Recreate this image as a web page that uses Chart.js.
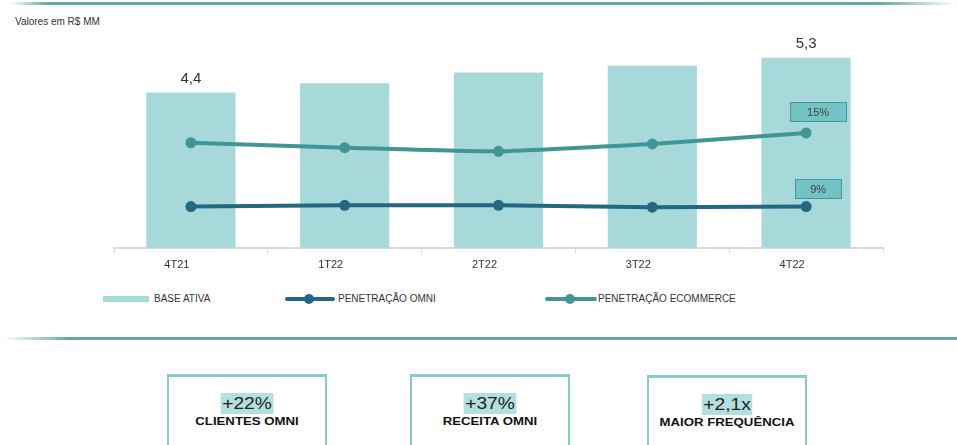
<!DOCTYPE html>
<html>
<head>
<meta charset="utf-8">
<script src="https://cdn.jsdelivr.net/npm/chart.js@4.4.1/dist/chart.umd.min.js"></script>
<style>
  html, body { margin: 0; padding: 0; background: #fff; }
  body { width: 957px; height: 445px; position: relative; overflow: hidden; font-family: "Liberation Sans", Arial, sans-serif; color: #333; }
  .rule { position: absolute; height: 3px; }
  .rule.top { left: 0; top: 2px; width: 957px; background: linear-gradient(to right, rgba(98,169,165,0) 1%, #62a9a5 5%, #64aaa6 92%, rgba(98,169,165,0) 100%); }
  .rule.mid { left: 3px; top: 337px; width: 954px; background: linear-gradient(to right, rgba(98,169,165,0) 0%, #62a9a5 7%, #62a9a5 100%); }
  #unit { position: absolute; left: 15px; top: 16px; font-size: 10px; }
  #wrap { position: absolute; left: 0; top: 0; width: 957px; height: 285px; }
  .lg { position: absolute; font-size: 10px; line-height: 12px; top: 293px; }
  .lg-box { position: absolute; top: 296px; height: 6px; }
  .lg-line { position: absolute; top: 297px; height: 4px; border-radius: 2px; }
  .lg-dot { position: absolute; width: 10px; height: 10px; border-radius: 50%; top: 294px; }
  .card { position: absolute; top: 374px; width: 156px; height: 100px; border: 2px solid #86cacd; border-top-width: 3px; }
  .card .in { position: absolute; left: 0; right: 0; top: 16px; text-align: center; transform: scaleX(1.2); }
  .card .big { display: inline-block; background: #b3dfe0; font-size: 16px; line-height: 21px; padding: 0 1px; color: #222; }
  .card .sub { font-size: 11px; font-weight: bold; color: #111; line-height: 13px; margin-top: 1px; }
</style>
</head>
<body>
<div class="rule top"></div>
<div id="unit">Valores em R$ MM</div>
<div id="wrap"><canvas id="chart"></canvas></div>

<div class="lg-box" style="left:103px;width:46px;background:#a8d9da"></div>
<div class="lg" style="left:154px">BASE ATIVA</div>
<div class="lg-line" style="left:285px;width:50px;background:#236880"></div>
<div class="lg-dot" style="left:304px;background:#236880"></div>
<div class="lg" style="left:338px">PENETRAÇÃO OMNI</div>
<div class="lg-line" style="left:545px;width:52px;background:#409696"></div>
<div class="lg-dot" style="left:565px;background:#409696"></div>
<div class="lg" style="left:598px">PENETRAÇÃO ECOMMERCE</div>

<div class="rule mid"></div>

<div class="card" style="left:167px"><div class="in"><span class="big">+22%</span><div class="sub">CLIENTES OMNI</div></div></div>
<div class="card" style="left:410px"><div class="in"><span class="big">+37%</span><div class="sub">RECEITA OMNI</div></div></div>
<div class="card" style="left:647px;top:375px"><div class="in"><span class="big">+2,1x</span><div class="sub">MAIOR FREQUÊNCIA</div></div></div>

<script>
  // data
  const categories = ['4T21', '1T22', '2T22', '3T22', '4T22'];
  const baseAtiva = [4.4, 4.64, 4.92, 5.09, 5.3];
  const penetracaoOmni = [9.0, 9.1, 9.1, 8.95, 9.0];
  const penetracaoEcommerce = [14.2, 13.8, 13.5, 14.1, 15.0];
  const baseLabels = ['4,4', '', '', '', '5,3'];
  const omniLabels = ['', '', '', '', '9%'];
  const ecomLabels = ['', '', '', '', '15%'];

  // draws the value labels above bars and the boxed labels near line ends
  const labelsPlugin = {
    id: 'labels',
    afterDatasetsDraw(chart) {
      const ctx = chart.ctx;
      ctx.save();
      ctx.textAlign = 'center';
      ctx.textBaseline = 'middle';

      const bars = chart.getDatasetMeta(0).data;
      ctx.font = '15px "Liberation Sans", Arial, sans-serif';
      ctx.fillStyle = '#333';
      bars.forEach((el, i) => {
        if (baseLabels[i]) ctx.fillText(baseLabels[i], el.x, el.y - 14);
      });

      const boxed = [
        { meta: 1, labels: omniLabels, dy: -18, pad: 15 },
        { meta: 2, labels: ecomLabels, dy: -21, pad: 17 }
      ];
      ctx.font = '11px "Liberation Sans", Arial, sans-serif';
      boxed.forEach(b => {
        chart.getDatasetMeta(b.meta).data.forEach((el, i) => {
          const txt = b.labels[i];
          if (!txt) return;
          const w = ctx.measureText(txt).width + b.pad * 2;
          const h = 19;
          const cx = el.x + 12, cy = el.y + b.dy;
          ctx.fillStyle = '#74c2c4';
          ctx.fillRect(cx - w / 2, cy - h / 2, w, h);
          ctx.strokeStyle = '#3f9a9c';
          ctx.lineWidth = 1;
          ctx.strokeRect(Math.round(cx - w / 2) + 0.5, Math.round(cy - h / 2) + 0.5, Math.round(w), h);
          ctx.fillStyle = '#444';
          ctx.fillText(txt, cx, cy + 1);
        });
      });
      ctx.restore();
    }
  };

  const chart = new Chart(document.getElementById('chart'), {
    data: {
      labels: categories,
      datasets: [
        {
          type: 'bar',
          label: 'BASE ATIVA',
          data: baseAtiva,
          yAxisID: 'y',
          backgroundColor: '#a8d9da',
          categoryPercentage: 1,
          barPercentage: 0.58,
          order: 2
        },
        {
          type: 'line',
          label: 'PENETRAÇÃO OMNI',
          data: penetracaoOmni,
          yAxisID: 'y2',
          borderColor: '#236880',
          backgroundColor: '#236880',
          borderWidth: 4,
          pointRadius: 5.5,
          pointBorderWidth: 0,
          tension: 0,
          order: 1
        },
        {
          type: 'line',
          label: 'PENETRAÇÃO ECOMMERCE',
          data: penetracaoEcommerce,
          yAxisID: 'y2',
          borderColor: '#409696',
          backgroundColor: '#409696',
          borderWidth: 4,
          pointRadius: 5.5,
          pointBorderWidth: 0,
          tension: 0.1,
          order: 1
        }
      ]
    },
    options: {
      responsive: true,
      maintainAspectRatio: false,
      animation: false,
      layout: { padding: { left: 114, right: 74, top: 30, bottom: 7 } },
      plugins: {
        legend: { display: false },
        tooltip: { enabled: false }
      },
      scales: {
        x: {
          offset: true,
          grid: { offset: true, drawOnChartArea: false, color: '#d9d9d9', tickLength: 5 },
          border: { color: '#d9d9d9', width: 2 },
          ticks: { color: '#333', padding: 6, labelOffset: -14, font: { family: '"Liberation Sans", Arial, sans-serif', size: 11 } }
        },
        y: { display: false, min: 0.37, max: 6.02 },
        y2: { display: false, min: 5.637, max: 23.39 }
      }
    },
    plugins: [labelsPlugin]
  });
</script>
</body>
</html>
